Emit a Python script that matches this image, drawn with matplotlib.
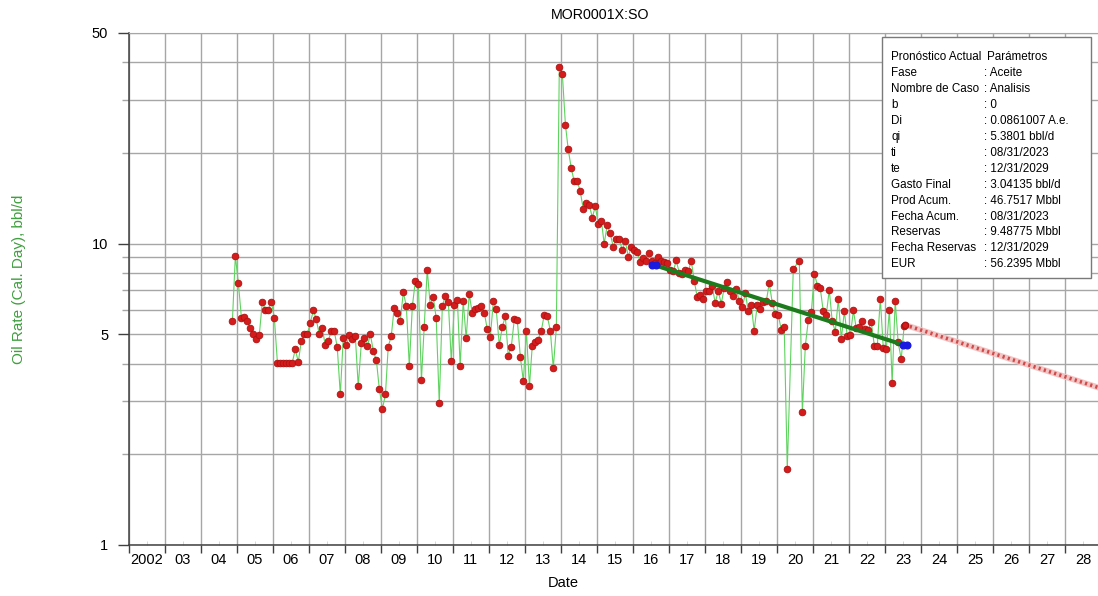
import matplotlib
matplotlib.use("Agg")
import matplotlib.pyplot as plt
import matplotlib.dates as mdates
from matplotlib.patches import Rectangle
from matplotlib.ticker import FixedLocator, NullFormatter, FixedFormatter
import numpy as np
import pandas as pd

plt.rcParams.update({
    "font.family": ["Liberation Sans", "DejaVu Sans"],
    "font.size": 10,
})

# monthly oil rate, bbl/d (NaN = no report that month)
rate_2004 = [5.53, 9.1]  # Nov, Dec
rate_2005 = [7.38, 5.66, 5.7, 5.52, 5.26, 5.03, 4.82, 4.98, 6.42, 6.02, 6.02, 6.42]
rate_2006 = [5.66, 4.02, 4.02, 4.02, 4.02, 4.02, 4.02, 4.46, 4.05, 4.75, 5.0, 5.0]
rate_2007 = [5.47, 6.0, 5.63, 5.0, 5.26, 4.6, 4.74, 5.12, 5.12, 4.53, 3.16, 4.88]
rate_2008 = [4.6, 4.98, 4.82, 4.94, 3.36, 4.68, 4.87, 4.57, 5.0, 4.4, 4.1, 3.29]
rate_2009 = [2.83, 3.16, 4.55, 4.94, 6.13, 5.87, 5.52, 6.9, 6.2, 3.92, 6.2, 7.5]
rate_2010 = [7.35, 3.52, 5.3, 8.2, 6.25, 6.65, 5.66, 2.95, 6.2, 6.7, 6.4, 4.08]
rate_2011 = [6.25, 6.5, 3.92, 6.45, 4.85, 6.8, 5.9, 6.05, 6.13, 6.2, 5.9, 5.2]
rate_2012 = [4.9, 6.45, 6.05, 4.6, 5.28, 5.75, 4.25, 4.55, 5.63, 5.56, 4.2, 3.5]
rate_2013 = [5.14, 3.36, 4.56, 4.73, 4.8, 5.14, 5.8, 5.75, 5.14, 3.86, 5.28, 38.6]
rate_2014 = [36.5, 24.8, 20.6, 17.8, 16.1, 16.1, 14.95, 13.0, 13.65, 13.45, 12.2, 13.3]
rate_2015 = [11.65, 11.9, 10.0, 11.5, 10.85, 9.75, 10.35, 10.35, 9.5, 10.2, 9.05, 9.75]
rate_2016 = [9.5, 9.4, 8.67, 8.96, 8.78, 9.3, 8.78, 8.65, 9.0, 8.75, 8.7, 8.6]
rate_2017 = [8.15, 8.1, 8.8, 8.0, 7.9, 8.15, 8.1, 8.75, 7.49, 6.63, 6.77, 6.55]
rate_2018 = [6.94, 6.94, 7.21, 6.35, 6.98, 6.32, 7.13, 7.44, 6.94, 6.72, 7.08, 6.43]
rate_2019 = [6.14, 6.86, 5.99, 6.27, 5.14, 6.25, 6.08, 6.4, 6.43, 7.4, 6.35, 5.85]
rate_2020 = [5.8, 5.15, 5.29, 1.79, np.nan, 8.25, np.nan, 8.78, 2.76, 4.58, 5.59, 5.93]
rate_2021 = [7.95, 7.25, 7.15, 5.96, 5.78, 7.03, 5.52, 5.11, 6.55, 4.83, 5.96, 4.92]
rate_2022 = [4.97, 6.0, 5.25, 5.29, 5.52, 5.2, 5.17, 5.5, 4.59, 4.56, 6.57, 4.5]
rate_2023 = [4.47, 6.04, 3.44, 6.47, 4.7, 4.14, 5.35]  # Jan..Jul

# exponential fit over 2016-2023 and forecast to the end of the axis
fit_dates = ["2016-08-01", "2023-07-20"]
fit_rate = [8.5, 4.6]
fc_dates = ["2023-07-20", "2028-12-31"]
fc_rate = [5.38, 3.31]

year_labels = ["2002"] + [f"{y % 100:02d}" for y in range(2003, 2029)]

legend_keys = ["Pronóstico Actual", "Fase", "Nombre de Caso", "b", "Di", "qi", "ti", "te",
               "Gasto Final", "Prod Acum.", "Fecha Acum.", "Reservas", "Fecha Reservas", "EUR"]
legend_vals = ["Parámetros", ": Aceite", ": Analisis", ": 0", ": 0.0861007 A.e.", ": 5.3801 bbl/d",
               ": 08/31/2023", ": 12/31/2029", ": 3.04135 bbl/d", ": 46.7517 Mbbl", ": 08/31/2023",
               ": 9.48775 Mbbl", ": 12/31/2029", ": 56.2395 Mbbl"]

rates = (rate_2004 + rate_2005 + rate_2006 + rate_2007 + rate_2008 + rate_2009 + rate_2010
         + rate_2011 + rate_2012 + rate_2013 + rate_2014 + rate_2015 + rate_2016 + rate_2017
         + rate_2018 + rate_2019 + rate_2020 + rate_2021 + rate_2022 + rate_2023)
months = pd.date_range("2004-11-01", periods=len(rates), freq="MS") + pd.Timedelta(days=14)
prod = pd.Series(rates, index=months).dropna()

W, H = 1098, 596
fig = plt.figure(figsize=(W / 100, H / 100), dpi=100)
ax = fig.add_axes([129 / W, 51 / H, 972 / W, 512 / H])

grid_c = "#a6a6a6"
ax.plot(prod.index, prod.values, color="#5fd35f", lw=0.8, zorder=3)
ax.plot(prod.index, prod.values, ls="none", marker="o", ms=4.8,
        mfc="#d41c1c", mec="#b01010", mew=0.6, zorder=4)

ax.plot(pd.to_datetime(fit_dates), fit_rate, color="#1d7a1d", lw=3, zorder=5,
        solid_capstyle="butt")
for d, r in zip(fit_dates, fit_rate):
    t = pd.Timestamp(d)
    ax.plot([t - pd.Timedelta(days=20), t + pd.Timedelta(days=20)], [r, r], ls="none",
            marker="o", ms=4.8, color="#1a1ae0", zorder=6)

fcx = pd.to_datetime(fc_dates)
ax.plot(fcx, fc_rate, color="#f2c4c4", lw=4.2, zorder=4, solid_capstyle="butt")
ax.plot(fcx, fc_rate, color="#cf4a4a", lw=2.6, ls=(0, (0.6, 0.9)), zorder=5)
ax.plot(fcx[:1], fc_rate[:1], ls="none", marker="o", ms=4.6, mfc="#d41c1c", mec="#b01010", zorder=6)

ax.set_yscale("log")
ax.set_ylim(1, 50)
ax.yaxis.set_major_locator(FixedLocator([1, 5, 10, 50]))
ax.yaxis.set_major_formatter(FixedFormatter(["1", "5", "10", "50"]))
ax.yaxis.set_minor_locator(FixedLocator([2, 3, 4, 6, 7, 8, 9, 20, 30, 40]))
ax.yaxis.set_minor_formatter(NullFormatter())

ax.set_xlim(pd.Timestamp("2002-01-01"), pd.Timestamp("2029-01-01"))
ax.xaxis.set_major_locator(mdates.YearLocator())
ax.xaxis.set_major_formatter(NullFormatter())
mids = [pd.Timestamp(f"{y}-07-02") for y in range(2002, 2029)]
ax.xaxis.set_minor_locator(FixedLocator(mdates.date2num(mids)))
ax.xaxis.set_minor_formatter(FixedFormatter(year_labels))

ax.xaxis.grid(True, which="major", color=grid_c, lw=1.0)
ax.yaxis.grid(True, which="both", color=grid_c, lw=1.0)
ax.set_axisbelow(True)
ax.tick_params(axis="x", which="major", length=6, color="#404040", width=1)
ax.tick_params(axis="x", which="minor", length=3, direction="in", color="#d0d0d0",
               pad=6, labelsize=10.5)
ax.tick_params(axis="y", which="major", length=8, color="#404040", width=1, pad=7, labelsize=10.5)
ax.tick_params(axis="y", which="minor", length=5, color=grid_c, width=1)
for s in ["left", "bottom"]:
    ax.spines[s].set_color("#404040")
    ax.spines[s].set_linewidth(1.1)
ax.spines["top"].set_color(grid_c)
ax.spines["right"].set_visible(False)

fig.text(600 / W, 1 - 15 / H, "MOR0001X:SO", ha="center", va="center", fontsize=10.3)
fig.text(563 / W, 1 - 583 / H, "Date", ha="center", va="center", fontsize=10.5)
fig.text(19 / W, 1 - 279 / H, "Oil Rate (Cal. Day), bbl/d", ha="center", va="center",
         rotation=90, fontsize=11, color="#3f9f3f")

# parameter box
fig.patches.append(Rectangle((882 / W, 1 - 278 / H), 209 / W, 241 / H, transform=fig.transFigure,
                             facecolor="white", edgecolor="#7a7a7a", lw=1, zorder=10))
for i, (k, v) in enumerate(zip(legend_keys, legend_vals)):
    y = 1 - (57.5 + i * 15.9) / H
    fig.text(891 / W, y, k, ha="left", va="center", fontsize=8.4, zorder=11)
    fig.text((987 if i == 0 else 984) / W, y, v, ha="left", va="center", fontsize=8.4, zorder=11)

fig.savefig("out.png", dpi=100)
